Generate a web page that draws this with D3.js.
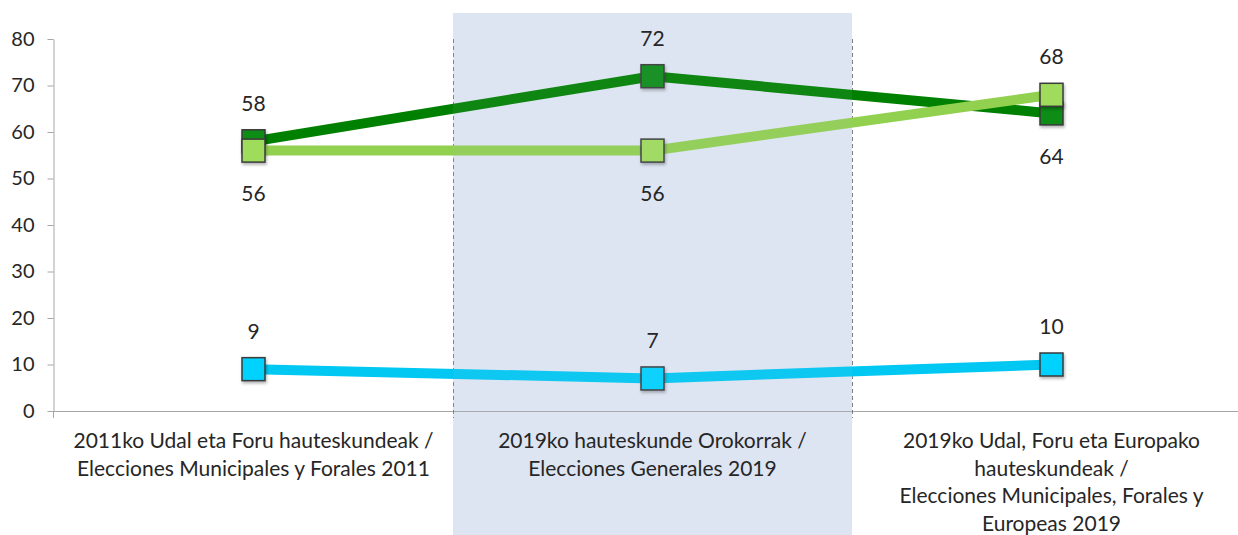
<!DOCTYPE html>
<html>
<head>
<meta charset="utf-8">
<script src="https://cdn.jsdelivr.net/npm/d3@7"></script>
<style>
  html, body { margin: 0; padding: 0; background: #ffffff; }
  svg { display: block; font-family: Lato, "Open Sans", sans-serif; }
</style>
</head>
<body>
<svg id="chart" width="1238" height="535"></svg>
<script>
// ---- data ----
const categories = ["c2011", "c2019g", "c2019m"];
const categoryLabels = [
  ["2011ko Udal eta Foru hauteskundeak /", "Elecciones Municipales y Forales 2011"],
  ["2019ko hauteskunde Orokorrak /", "Elecciones Generales 2019"],
  ["2019ko Udal, Foru eta Europako", "hauteskundeak /", "Elecciones Municipales, Forales y", "Europeas 2019"]
];
const darkGreenValues = [58, 72, 64];
const lightGreenValues = [56, 56, 68];
const cyanValues = [9, 7, 10];
const darkGreenLabelSide = ["above", "above", "below"];
const lightGreenLabelSide = ["below", "below", "above"];
const cyanLabelSide = ["above", "above", "above"];
const yTicks = [0, 10, 20, 30, 40, 50, 60, 70, 80];
const highlightedCategory = "c2019g";

const series = [
  { values: darkGreenValues, sides: darkGreenLabelSide, line: "#008000", fill: "#0b8c17" },
  { values: lightGreenValues, sides: lightGreenLabelSide, line: "#92d050", fill: "#a0dc5c" },
  { values: cyanValues, sides: cyanLabelSide, line: "#00c8f2", fill: "#00d2ff" }
];
const drawOrder = [2, 0, 1];

// ---- layout ----
const svg = d3.select("#chart");
const x = d3.scaleBand().domain(categories).range([54, 1251]).paddingInner(0).paddingOuter(0);
const y = d3.scaleLinear().domain([0, 80]).range([411, 39]);
const cx = c => x(c) + x.bandwidth() / 2;

const defs = svg.append("defs");
const f = defs.append("filter").attr("id", "shadow").attr("x", "-30%").attr("y", "-30%").attr("width", "160%").attr("height", "160%");
f.append("feDropShadow").attr("dx", 1).attr("dy", 2).attr("stdDeviation", 1.5).attr("flood-color", "#000").attr("flood-opacity", 0.3);

const hx0 = x(highlightedCategory), hx1 = x(highlightedCategory) + x.bandwidth();

// highlight band (behind the marks)
svg.append("rect").attr("x", hx0).attr("y", 13).attr("width", x.bandwidth()).attr("height", 535 - 13)
  .attr("fill", "#e0e7f3");

// y axis
const yAxis = d3.axisLeft(y).tickValues(yTicks).tickSize(6).tickSizeOuter(0).tickPadding(13);
const gy = svg.append("g").attr("transform", "translate(53.5,0)").call(yAxis);
gy.select(".domain").attr("stroke", "#a6a6a6");
gy.selectAll(".tick line").attr("stroke", "#a6a6a6");
gy.selectAll(".tick text").attr("fill", "#262626").style("font-size", "20px").style("font-family", "Lato, 'Open Sans', sans-serif");
svg.append("line").attr("x1", 53.5).attr("x2", 53.5).attr("y1", y(0)).attr("y2", y(0) + 7).attr("stroke", "#a6a6a6");

// x axis baseline
svg.append("line").attr("x1", 53.5).attr("x2", 1238).attr("y1", y(0) + 0.5).attr("y2", y(0) + 0.5).attr("stroke", "#a6a6a6");

// dashed vertical separators around highlighted category
[hx0, hx1].forEach(xx => {
  svg.append("line").attr("x1", xx + 0.5).attr("x2", xx + 0.5).attr("y1", y(80)).attr("y2", y(0) + 7)
    .attr("stroke", "#7f7f7f").attr("stroke-dasharray", "4,3").attr("stroke-width", 1);
});

// lines and markers
const line = d3.line().x((d, i) => cx(categories[i])).y(d => y(d));
drawOrder.forEach(si => {
  const s = series[si];
  svg.append("path").datum(s.values).attr("d", line)
    .attr("fill", "none").attr("stroke", s.line).attr("stroke-width", 10).attr("stroke-linejoin", "round");
  svg.append("g").selectAll("rect").data(s.values).join("rect")
    .attr("x", (d, i) => cx(categories[i]) - 11.5)
    .attr("y", d => y(d) - 11.5)
    .attr("width", 23).attr("height", 23)
    .attr("fill", s.fill).attr("stroke", "#3a3a3a").attr("stroke-width", 1.5)
    .attr("filter", "url(#shadow)");
});

// subtle tint over the highlighted band
svg.append("rect").attr("x", hx0).attr("y", 13).attr("width", x.bandwidth()).attr("height", 535 - 13)
  .attr("fill", "#c2d1ea").attr("fill-opacity", 0.08);

// data labels
series.forEach(s => {
  svg.append("g").selectAll("text").data(s.values).join("text")
    .attr("x", (d, i) => cx(categories[i]))
    .attr("y", (d, i) => y(d) + (s.sides[i] === "above" ? -39 : 42))
    .attr("text-anchor", "middle").attr("dominant-baseline", "central")
    .attr("fill", "#262626").style("font-size", "21px")
    .text(d => d);
});

// category labels
categories.forEach((c, i) => {
  const t = svg.append("text").attr("text-anchor", "middle").attr("fill", "#262626").style("font-size", "21px");
  categoryLabels[i].forEach((ln, j) => {
    t.append("tspan").attr("x", cx(c)).attr("y", 448 + j * 27.5).text(ln);
  });
});
</script>
</body>
</html>
